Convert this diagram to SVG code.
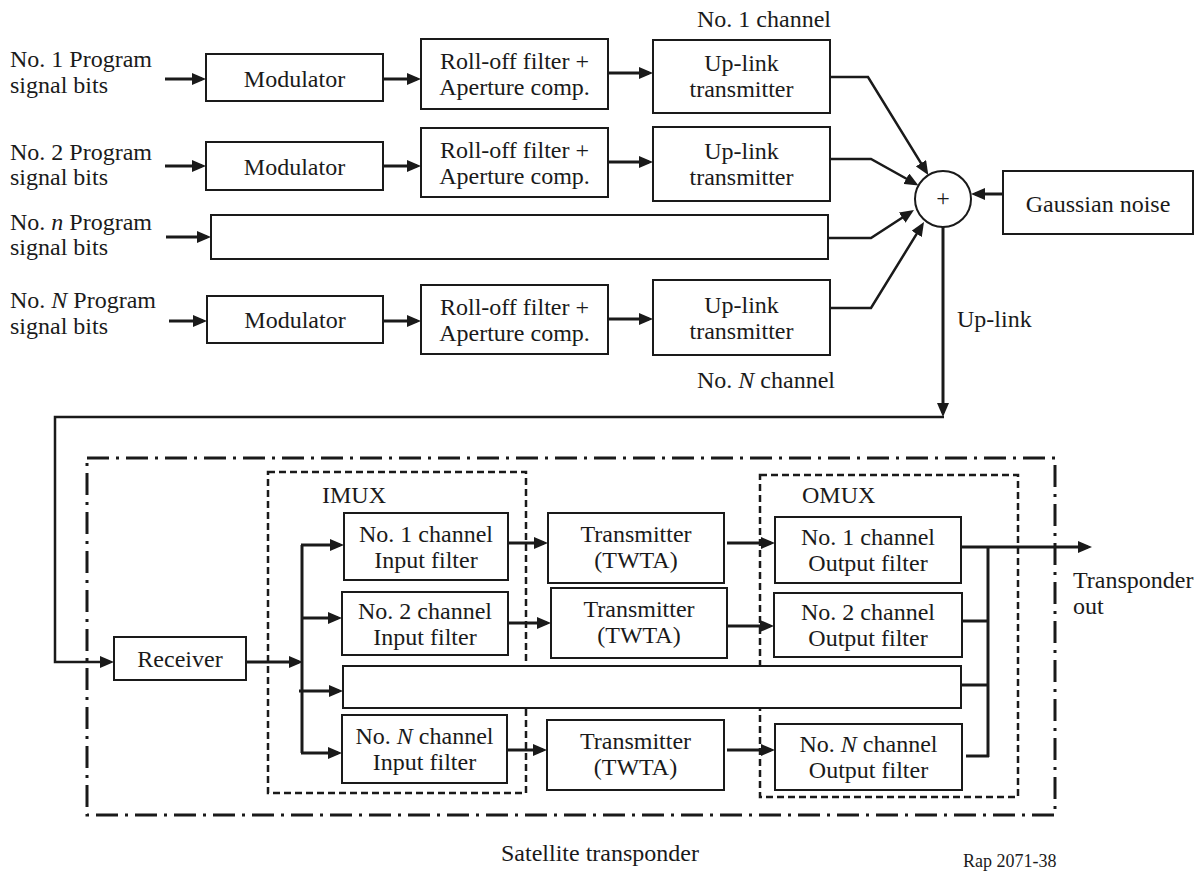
<svg xmlns="http://www.w3.org/2000/svg" width="1200" height="871" viewBox="0 0 1200 871">
<style>
text{font-family:"Liberation Serif","Times New Roman",serif;font-size:24px;fill:#1a1a1a}
.c{text-anchor:middle}
.box{fill:#fff;stroke:#1a1a1a;stroke-width:2}
.ln{fill:none;stroke:#1a1a1a;stroke-width:3}
.ln2{fill:none;stroke:#1a1a1a;stroke-width:2.5}
.arr{marker-end:url(#ah)}
.dd{fill:none;stroke:#1a1a1a;stroke-width:3;stroke-dasharray:22 7 3 7}
.ds{fill:none;stroke:#1a1a1a;stroke-width:2.5;stroke-dasharray:7 4}
</style>
<defs>
<marker id="ah" markerUnits="userSpaceOnUse" markerWidth="14" markerHeight="12" viewBox="0 0 14 12" refX="10" refY="6" orient="auto">
<path d="M0,0 L14,6 L0,12 z" fill="#1a1a1a"/>
</marker>
</defs>
<rect width="1200" height="871" fill="#fff"/>

<!-- Input labels -->
<g id="label-in1"><text x="10" y="67">No. 1 Program</text><text x="10" y="93">signal bits</text></g>
<g id="label-in2"><text x="10" y="160">No. 2 Program</text><text x="10" y="185">signal bits</text></g>
<g id="label-inn"><text x="10" y="230">No. <tspan font-style="italic">n</tspan> Program</text><text x="10" y="255">signal bits</text></g>
<g id="label-inN"><text x="10" y="308">No. <tspan font-style="italic">N</tspan> Program</text><text x="10" y="334">signal bits</text></g>

<!-- Row 1 -->
<g id="mod1"><rect class="box" x="206" y="54" width="177" height="47"/><text class="c" x="294.5" y="87">Modulator</text></g>
<g id="roll1"><rect class="box" x="421" y="39" width="187" height="70"/><text class="c" x="514.5" y="69">Roll-off filter +</text><text class="c" x="514.5" y="95">Aperture comp.</text></g>
<g id="up1"><rect class="box" x="653" y="40" width="177" height="73"/><text class="c" x="741.5" y="71">Up-link</text><text class="c" x="741.5" y="97">transmitter</text></g>
<g id="label-ch1"><text x="697" y="27">No. 1 channel</text></g>

<!-- Row 2 -->
<g id="mod2"><rect class="box" x="206" y="142" width="177" height="48"/><text class="c" x="294.5" y="175">Modulator</text></g>
<g id="roll2"><rect class="box" x="421" y="128" width="187" height="69"/><text class="c" x="514.5" y="158">Roll-off filter +</text><text class="c" x="514.5" y="184">Aperture comp.</text></g>
<g id="up2"><rect class="box" x="653" y="127" width="177" height="74"/><text class="c" x="741.5" y="159">Up-link</text><text class="c" x="741.5" y="185">transmitter</text></g>

<!-- Row n -->
<g id="rown"><rect class="box" x="211" y="215" width="617" height="44"/></g>

<!-- Row N -->
<g id="modN"><rect class="box" x="207" y="296" width="176" height="47"/><text class="c" x="295" y="328">Modulator</text></g>
<g id="rollN"><rect class="box" x="421" y="285" width="187" height="69"/><text class="c" x="514.5" y="315">Roll-off filter +</text><text class="c" x="514.5" y="341">Aperture comp.</text></g>
<g id="upN"><rect class="box" x="653" y="280" width="177" height="75"/><text class="c" x="741.5" y="313">Up-link</text><text class="c" x="741.5" y="339">transmitter</text></g>
<g id="label-chN"><text x="697" y="388">No. <tspan font-style="italic">N</tspan> channel</text></g>

<!-- Summer and noise -->
<g id="sum"><circle cx="943" cy="199" r="28" fill="#fff" stroke="#1a1a1a" stroke-width="2"/><text class="c" x="943" y="206">+</text></g>
<g id="noise"><rect class="box" x="1003" y="171" width="190" height="63"/><text class="c" x="1098" y="212">Gaussian noise</text></g>
<g id="label-uplink"><text x="957" y="327">Up-link</text></g>

<!-- Satellite transponder -->
<g id="transponder"><rect class="dd" x="87" y="458" width="968" height="357"/><text class="c" x="600" y="861">Satellite transponder</text></g>
<g id="imux"><rect class="ds" x="268" y="472" width="258" height="321"/><text x="322" y="503">IMUX</text></g>
<g id="omux"><rect class="ds" x="760" y="475" width="258" height="322"/><text x="802" y="503">OMUX</text></g>

<g id="receiver"><rect class="box" x="114" y="637" width="132" height="43"/><text class="c" x="180" y="667">Receiver</text></g>

<g id="if1"><rect class="box" x="344" y="513" width="164" height="67"/><text class="c" x="426" y="542">No. 1 channel</text><text class="c" x="426" y="568">Input filter</text></g>
<g id="if2"><rect class="box" x="342" y="592" width="166" height="63"/><text class="c" x="425" y="619">No. 2 channel</text><text class="c" x="425" y="645">Input filter</text></g>
<g id="rowlong"><rect class="box" x="343" y="666" width="618" height="42"/></g>
<g id="ifN"><rect class="box" x="342" y="715" width="165" height="68"/><text class="c" x="424.5" y="744">No. <tspan font-style="italic">N</tspan> channel</text><text class="c" x="424.5" y="770">Input filter</text></g>

<g id="tx1"><rect class="box" x="548" y="513" width="176" height="70"/><text class="c" x="636" y="542">Transmitter</text><text class="c" x="636" y="568">(TWTA)</text></g>
<g id="tx2"><rect class="box" x="551" y="588" width="176" height="70"/><text class="c" x="639" y="617">Transmitter</text><text class="c" x="639" y="643">(TWTA)</text></g>
<g id="txN"><rect class="box" x="547" y="720" width="177" height="70"/><text class="c" x="635.5" y="749">Transmitter</text><text class="c" x="635.5" y="775">(TWTA)</text></g>

<g id="of1"><rect class="box" x="775" y="517" width="186" height="66"/><text class="c" x="868" y="545">No. 1 channel</text><text class="c" x="868" y="571">Output filter</text></g>
<g id="of2"><rect class="box" x="774" y="593" width="188" height="64"/><text class="c" x="868" y="620">No. 2 channel</text><text class="c" x="868" y="646">Output filter</text></g>
<g id="ofN"><rect class="box" x="775" y="724" width="187" height="66"/><text class="c" x="868.5" y="752">No. <tspan font-style="italic">N</tspan> channel</text><text class="c" x="868.5" y="778">Output filter</text></g>

<g id="label-out"><text x="1073" y="588">Transponder</text><text x="1073" y="614">out</text></g>
<g id="label-rap"><text x="963" y="867" style="font-size:18px">Rap 2071-38</text></g>

<g id="connectors">
<!-- top rows -->
<path class="ln arr" d="M165,79 H202"/>
<path class="ln arr" d="M383,79 H417"/>
<path class="ln arr" d="M608,73 H649"/>
<path class="ln arr" d="M165,166 H202"/>
<path class="ln arr" d="M383,166 H417"/>
<path class="ln arr" d="M608,162 H649"/>
<path class="ln arr" d="M166,237 H207"/>
<path class="ln arr" d="M169,321 H203"/>
<path class="ln arr" d="M383,321 H417"/>
<path class="ln arr" d="M608,319 H649"/>
<!-- to summer -->
<path class="ln2 arr" d="M830,77 H868 L926.2,171.7"/>
<path class="ln2 arr" d="M830,159 H871 L915,183.5"/>
<path class="ln2 arr" d="M828,238 H871 L910.6,212.2"/>
<path class="ln2 arr" d="M830,308 H871 L921.9,225.4"/>
<path class="ln arr" d="M1003,194 H975"/>
<path class="ln arr" d="M943,227 V413"/>
<path class="ln2 arr" d="M944,417 H55 V662 H110"/>
<!-- transponder -->
<path class="ln arr" d="M246,662 H299"/>
<path class="ln" d="M302,545 V753"/>
<path class="ln arr" d="M301,545 H340"/>
<path class="ln arr" d="M301,618 H338"/>
<path class="ln arr" d="M299,691 H339"/>
<path class="ln arr" d="M301,753 H338"/>
<path class="ln arr" d="M508,543 H544"/>
<path class="ln arr" d="M508,623 H547"/>
<path class="ln arr" d="M507,750 H543"/>
<path class="ln arr" d="M727,543 H771"/>
<path class="ln arr" d="M727,626 H770"/>
<path class="ln arr" d="M727,750 H771"/>
<path class="ln arr" d="M961,547 H1088"/>
<path class="ln" d="M988,547 V757"/>
<path class="ln" d="M962,621 H988"/>
<path class="ln" d="M961,685 H988"/>
<path class="ln" d="M966,756 H989"/>
</g>
</svg>
